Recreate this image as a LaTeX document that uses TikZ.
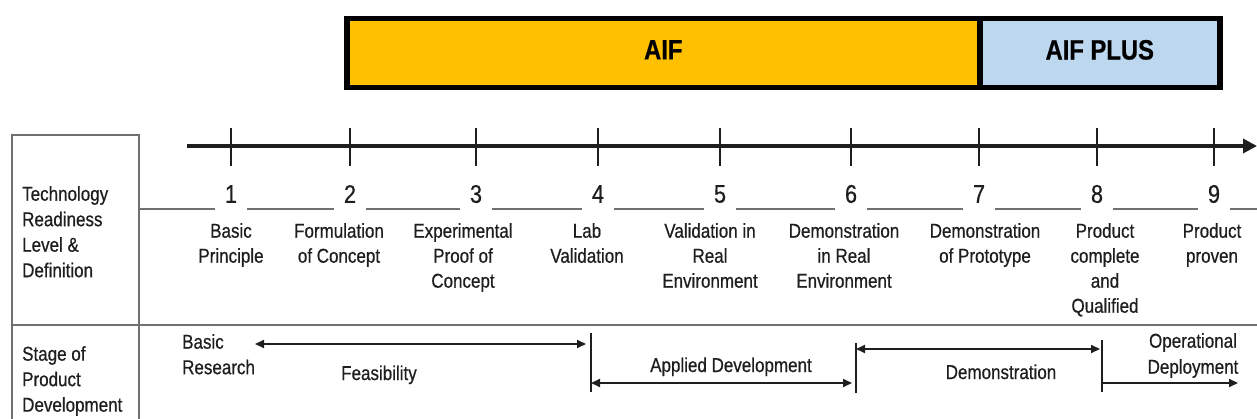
\documentclass[tikz,border=0pt]{standalone}
\usepackage{fontspec}
\setmainfont{Liberation Sans}[FakeStretch=0.85, FakeBold=0.6]
\usetikzlibrary{arrows.meta}
\definecolor{aif}{HTML}{FFC000}
\definecolor{aifplus}{HTML}{BDD7EE}
\definecolor{ink}{HTML}{1E1E1E}
\definecolor{rulec}{HTML}{707070}
\begin{document}
\begin{tikzpicture}[x=1pt,y=-1pt,
  lbl/.style={font=\fontsize{20}{25}\selectfont, text=ink, inner sep=0pt, align=center, anchor=north},
  lbll/.style={font=\fontsize{20}{25.5}\selectfont, text=ink, inner sep=0pt, align=left, anchor=north west},
  num/.style={font=\fontsize{25.5}{30}\selectfont, text=ink, inner sep=0pt, minimum width=31pt},
  topbox/.style={draw=black, line width=5.5pt, inner sep=0pt, anchor=north west, minimum height=69pt,
     text depth=7pt, font=\fontsize{28}{32}\selectfont\bfseries, text=black},
  rulel/.style={draw=rulec, line width=1.5pt},
  sepl/.style={draw=ink, line width=2pt},
  arr/.style={draw=ink, line width=1.8pt, >={Triangle[length=9pt,width=8pt]}},
  tick/.style={draw=ink, line width=2.2pt}]
\useasboundingbox (0,0) rectangle (1257,419);

% top boxes
\node[topbox, fill=aif, minimum width=633pt] (aif) at (344,16) {AIF};
\node[topbox, fill=aifplus, minimum width=240pt] (aifplus) at (977,16) {AIF PLUS};

% table frame
\draw[rulel] (12,419) -- (12,135) -- (139,135) -- (139,419);
\draw[rulel] (12,325) -- (1257,325);

% axis
\coordinate (ax0) at (187,146);
\coordinate (ax1) at (1257,146);
\draw[draw=ink, line width=4.5pt, -{Triangle[length=14pt,width=14pt]}] (ax0) -- (ax1);

% ticks and numbers
\foreach \i/\x in {1/231,2/350,3/476,4/598,5/720,6/851,7/979,8/1097,9/1214}{
  \draw[tick] (\x,128) -- (\x,166);
  \node[num] (n\i) at (\x,194) {\i};
}

% thin line with gaps
\coordinate (r0) at (139,209);
\coordinate (r9) at (1257,209);
\draw[rulel] (r0) -- (r0 -| n1.west);
\foreach \i/\j in {1/2,2/3,3/4,4/5,5/6,6/7,7/8,8/9}{
  \draw[rulel] (n\i.east |- r0) -- (n\j.west |- r0);
}
\draw[rulel] (n9.east |- r0) -- (r9);

% left column labels
\node[lbll] (trl) at (22,186) {Technology\\Readiness\\Level \&\\Definition};
\node[lbll] (spd) at (22,346) {Stage of\\Product\\Development};

% definitions
\node[lbl] (d1) at (231,223) {Basic\\Principle};
\node[lbl] (d2) at (339,223) {Formulation\\of Concept};
\node[lbl] (d3) at (463,223) {Experimental\\Proof of\\Concept};
\node[lbl] (d4) at (587,223) {Lab\\Validation};
\node[lbl] (d5) at (710,223) {Validation in\\Real\\Environment};
\node[lbl] (d6) at (844,223) {Demonstration\\in Real\\Environment};
\node[lbl] (d7) at (985,223) {Demonstration\\of Prototype};
\node[lbl] (d8) at (1105,223) {Product\\complete\\and\\Qualified};
\node[lbl] (d9) at (1212,223) {Product\\proven};

% stages
\node[lbll] (basic) at (182,334) {Basic\\Research};
\coordinate (fa) at (255,344);
\coordinate (fb) at (586,344);
\draw[arr, <->] (fa) -- (fb);
\node[lbl, anchor=base] (feas) at (379,380) {Feasibility};

\coordinate (s1t) at (591,333);
\coordinate (s1b) at (591,392);
\draw[sepl] (s1t) -- (s1b);
\coordinate (aa) at (591,383);
\coordinate (ab) at (852,383);
\draw[arr, <->] (aa) -- (ab);
\node[lbl, anchor=base] (appl) at (731,372) {Applied Development};

\coordinate (s2t) at (856,343);
\coordinate (s2b) at (856,393);
\draw[sepl] (s2t) -- (s2b);
\coordinate (da) at (856,349);
\coordinate (db) at (1100,349);
\draw[arr, <->] (da) -- (db);
\node[lbl, anchor=base] (demo) at (1001,379) {Demonstration};

\coordinate (s3t) at (1102,340);
\coordinate (s3b) at (1102,392);
\draw[sepl] (s3t) -- (s3b);
\coordinate (oa) at (1102,383);
\coordinate (ob) at (1238,383);
\draw[arr, ->] (oa) -- (ob);
\node[lbl, font=\fontsize{20}{26}\selectfont] (oper) at (1193,333) {Operational\\Deployment};
\end{tikzpicture}
\end{document}
